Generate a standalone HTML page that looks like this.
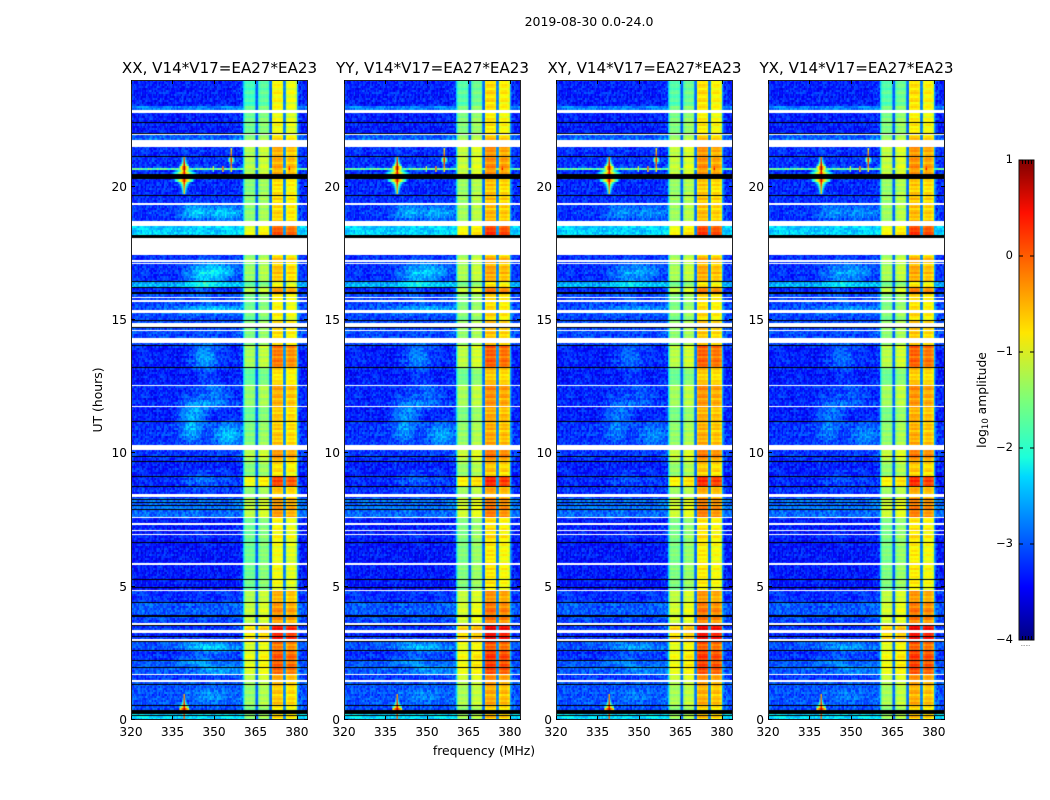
<!DOCTYPE html>
<html>
<head>
<meta charset="utf-8">
<title>Spectrogram panels 2019-08-30</title>
<style>
  html, body { margin: 0; padding: 0; background: #fff; }
  #figure { position: relative; width: 1050px; height: 800px; overflow: hidden; background: #fff; }
  #figure canvas { position: absolute; display: block; }
  #overlay { position: absolute; left: 0; top: 0; }
  text { font-family: "DejaVu Sans", "Liberation Sans", sans-serif; fill: #000; }
</style>
</head>
<body>
<div id="figure">
  <svg id="overlay" width="1050" height="800" viewBox="0 0 1050 800">
    <defs>
      <linearGradient id="jetGradient" x1="0" y1="1" x2="0" y2="0">
        <stop offset="0" stop-color="#000080"/>
        <stop offset="0.11" stop-color="#0000ff"/>
        <stop offset="0.34" stop-color="#00d8ff"/>
        <stop offset="0.38" stop-color="#1cffdb"/>
        <stop offset="0.5" stop-color="#7cff79"/>
        <stop offset="0.64" stop-color="#ffe600"/>
        <stop offset="0.89" stop-color="#ff0f00"/>
        <stop offset="1" stop-color="#800000"/>
      </linearGradient>
    </defs>
    <text x="589" y="26" text-anchor="middle" font-size="12.5">2019-08-30 0.0-24.0</text>
    <text x="484" y="755" text-anchor="middle" font-size="12.4">frequency (MHz)</text>
    <text transform="translate(102,400) rotate(-90)" text-anchor="middle" font-size="12.4">UT (hours)</text>
    <text transform="translate(986,400) rotate(-90)" text-anchor="middle" font-size="12.3">log<tspan font-size="8.5" dy="2">10</tspan><tspan dy="-2"> amplitude</tspan></text>
  </svg>
</div>
<script>
// ---- chart data ----
const panelTitles = ["XX, V14*V17=EA27*EA23", "YY, V14*V17=EA27*EA23", "XY, V14*V17=EA27*EA23", "YX, V14*V17=EA27*EA23"];
const panelIds = ["xx", "yy", "xy", "yx"];
const xTickLabels = [320, 335, 350, 365, 380];
const yTickLabels = [0, 5, 10, 15, 20];
const colorbarTicks = [1, 0, -1, -2, -3, -4];

// log10 amplitude per 0.5 MHz channel, from 320 MHz upward
const channelLevels = [
  -3.25,-3.25,-3.25,-3.25,-3.25,-3.25,-3.25,-3.25,-3.25,-3.25,-3.25,-3.25,-3.25,-3.25,-3.25,-3.25,
  -3.25,-3.25,-3.25,-3.25,-3.25,-3.25,-3.25,-3.25,-3.25,-3.25,-3.25,-3.25,-3.25,-3.25,-3.25,-3.25,
  -3.25,-3.25,-3.25,-3.25,-3.25,-3.25,-3.25,-3.25,-3.25,-3.25,-3.25,-3.25,-3.25,-3.25,-3.25,-3.25,
  -3.25,-3.25,-3.25,-3.25,-3.25,-3.25,-3.25,-3.25,-3.25,-3.25,-3.25,-3.25,-3.25,-3.25,-3.25,-3.25,
  -3.25,-3.25,-3.25,-3.25,-3.25,-3.25,-3.25,-3.25,-3.25,-3.25,-3.25,-3.25,-3.2,-3.2,-3.15,-3.15,
  -3.15,-2.4,-1.65,-1.58,-1.58,-1.58,-1.58,-1.58,-1.6,-1.7,-2.95,-2.9,-1.65,-1.5,-1.45,-1.45,
  -1.45,-1.45,-1.45,-1.6,-2.9,-2.85,-1.15,-1.0,-1.0,-1.0,-1.0,-1.0,-1.0,-1.15,-2.8,-2.75,
  -1.3,-1.15,-1.1,-1.1,-1.1,-1.1,-1.15,-1.3,-2.6,-3.15,-3.2,-3.2,-3.25,-3.25,-3.25,-3.25
];
const lowChannelLimit = 360.7;

// time segments (hours): start of each segment from the top, with quiet-band and bright-band offsets
const segmentStart = [24,23.04,22.78,21.95,21.65,20.31,19.33,18.51,18.09,17.42,16.44,16.22,15.99,14.98,14.04,13.22,12.58,11.79,11.19,10.14,9.73,9.13,8.79,8.34,7.56,6.66,4.86,4.41,3.81,3.54,2.98,2.61,2.23,1.74,1.45,0.54,0.24];
const quietOffset = [0,0.5,0,0.35,0.1,0.05,0.1,0.9,0,0.1,0.75,0,0.2,0.2,0,0,0.05,0,0.1,0.1,0,0,0.1,0.4,0,-0.05,0.1,0.3,0.2,0.1,0.25,0.1,0.3,0.1,0.25,0.25,0.95];
const bandOffset = [0.1,0.1,0.05,0.2,0.4,0.2,0.25,0.75,0,0.3,0.1,0.5,0.1,0.2,0.6,0.2,0.4,0.3,0.3,0.5,0.2,0.8,0.3,0.5,0.1,0.05,0.4,0.5,0.5,1.0,0.6,0.75,0.7,0.4,0.3,0.2,0.2];
const lowerBandDrop = [0.3,0.1,0.05,0.05,0,0.05,0.05,0,0,0.05,0.1,0.05,0.1,0.1,0.2,0.25,0.15,0.25,0.15,0.05,0.05,0,0.1,0,0.1,0.05,0,0,0,0,0,0,0,0,0.05,0.05,0.05];
const panelBandGain = [0, 0.12, 0.1, 0.1];
const panelBlobGain = [1, 0.8, 0.6, 0.6];
const rowStreak = [0.02,-0.1,0.14,0.05,-0.18,0.1,0.22,-0.05,-0.14,0.08,0.17,-0.22,0,0.12,-0.08,0.19,-0.12,0.04,-0.2,0.15,0.07,-0.03,0.24,-0.16,0.09,-0.06,0.13,-0.24,0.03,0.18,-0.09,0.06,-0.13,0.2,-0.02,0.11,-0.17];
const speckle = [0.12,-0.28,0.05,0.31,-0.14,-0.33,0.22,0.02,-0.09,0.27,-0.21,0.16,-0.38,0.08,0.34,-0.05,-0.25,0.19,0.01,-0.17,0.29,-0.31,0.11,-0.02,0.24,-0.12,0.36,-0.27,0.06,-0.19,0.15,-0.35,0.26,-0.07,0.09,-0.23,0.32,0.03,-0.15,0.2,-0.3,0.13,-0.04,0.28,-0.11,-0.36,0.18,0.07,-0.24,0.23,-0.08,0.33,-0.18,0.04,-0.29,0.17,0.1,-0.13,0.25,-0.01,-0.2];

// broad sky-emission patches in the quiet band
const blobFreq = [343,354,346,352,347,350,342,355,349,342,350,346,346,350,344,352,349];
const blobHour = [19.05,19.0,16.6,16.85,13.6,12.35,10.95,10.7,11.85,11.6,15.4,9.0,2.8,2.65,2.2,1.85,0.9];
const blobFreqWidth = [5,6,6,7,5,5,4,5,8,5,14,9,9,9,8,9,7];
const blobHourWidth = [0.3,0.3,0.5,0.35,0.55,0.35,0.5,0.45,0.25,0.4,0.15,0.3,0.15,0.2,0.15,0.2,0.3];
const blobAmp = [0.8,0.85,0.65,0.7,0.7,0.45,0.7,0.8,0.45,0.5,0.7,0.4,0.4,0.5,0.4,0.4,0.35];

// narrowband interference features
const rfiFreq = [339.25,339.25,339.25,356.25,353.25,377.25,349.75,364.75,339.25];
const rfiHour = [20.42,20.7,20.25,21.0,20.68,20.68,20.68,20.68,0.42];
const rfiPeak = [0.55,0.95,0.7,0.4,0.3,0.5,-0.5,-0.5,0.7];
const rfiHourWidth = [0.7,0.45,0.35,0.42,0.12,0.14,0.1,0.1,0.55];
const rfiFreqWidth = [4.5,2,3.5,1.1,1.2,1.2,1,1,2];
const rfiLineHour = 20.67;
const rfiLineLevel = -1.7;

// flagged (white) time ranges: upper and lower hour
const flagTop = [22.87,21.99,21.75,21.62,19.37,18.73,18.09,17.25,17.15,15.88,15.75,15.39,15.32,14.90,14.62,14.32,12.58,11.79,10.33,8.46,7.63,7.40,7.11,6.99,5.87,4.86,3.62,3.36,3.02,1.74,1.50];
const flagBottom = [22.78,21.95,21.65,21.50,19.33,18.51,17.42,17.19,17.10,15.84,15.69,15.36,15.26,14.75,14.57,14.15,12.54,11.75,10.14,8.35,7.56,7.33,7.07,6.95,5.83,4.82,3.58,3.28,2.98,1.71,1.42];
// dropped (black) time ranges
const dropTop = [22.42,22.03,21.15,20.46,19.69,18.17,16.46,16.24,16.06,15.00,14.74,14.06,13.24,11.21,9.91,9.72,9.15,8.79,8.30,8.18,8.06,7.91,6.68,5.30,5.00,4.43,3.92,3.56,3.15,2.96,2.64,2.25,2.00,1.35,0.56,0.36,0.19];
const dropBottom = [22.38,21.99,21.11,20.29,19.65,18.09,16.42,16.20,15.98,14.96,14.70,14.02,13.20,11.17,9.87,9.68,9.11,8.75,8.26,8.14,8.02,7.87,6.64,5.26,4.96,4.39,3.86,3.52,3.11,2.92,2.60,2.21,1.96,1.31,0.52,0.24,0.15];

// ---- layout ----
const panelLeft = [131, 344, 556, 768];
const panelWidth = 177;
const panelTop = 80;
const panelHeight = 640;
const freqMin = 320, freqMax = 384, hourMin = 0, hourMax = 24;
const cbarLeft = 1019, cbarWidth = 15, cbarTop = 160, cbarHeight = 480;

function xPix(f) { return (f - freqMin) / (freqMax - freqMin) * panelWidth; }
function yPix(h) { return (hourMax - h) / (hourMax - hourMin) * panelHeight; }
function cbarY(v) { return cbarTop + (1 - v) / 5 * cbarHeight; }

function jet(v) {
  const t = Math.max(0, Math.min(1, (v + 4) / 5));
  const ramp = (x) => Math.max(0, Math.min(1, x));
  const r = ramp(Math.min(4 * t - 1.5, -4 * t + 4.5));
  const g = ramp(Math.min(4 * t - 0.5, -4 * t + 3.5));
  const b = ramp(Math.min(4 * t + 0.5, -4 * t + 2.5));
  return "rgb(" + Math.round(r * 255) + "," + Math.round(g * 255) + "," + Math.round(b * 255) + ")";
}

function segmentIndex(h) {
  let idx = 0;
  for (let i = 0; i < segmentStart.length; i++) { if (h <= segmentStart[i]) idx = i; }
  return idx;
}

function cellValue(panel, col, row, f, h) {
  const seg = segmentIndex(h);
  const base = channelLevels[col];
  const streak = rowStreak[row % rowStreak.length];
  const noise = speckle[(col * col * 3 + row * row * 5 + col * row) % speckle.length];
  let v;
  if (f < lowChannelLimit || f > 380.5) {
    v = base + quietOffset[seg] + noise * 0.85 + streak * 0.25;
    for (let i = 0; i < blobFreq.length; i++) {
      const dx = (f - blobFreq[i]) / blobFreqWidth[i];
      const dy = (h - blobHour[i]) / blobHourWidth[i];
      const d = dx * dx + dy * dy;
      if (d < 4 && f < lowChannelLimit) v += blobAmp[i] * panelBlobGain[panel] * Math.exp(-d);
    }
  } else if (base < -2) {
    v = base + 0.2 * bandOffset[seg] + noise * 0.2;
  } else if (f > 371) {
    v = base + 1.3 * (bandOffset[seg] + panelBandGain[panel]) + 0.7 * streak + noise * 0.1;
  } else {
    v = base + 0.8 * (bandOffset[seg] + panelBandGain[panel]) + 0.5 * streak - lowerBandDrop[seg] + noise * 0.1;
  }
  if (Math.abs(h - rfiLineHour) < 0.06) v = Math.max(v, rfiLineLevel + noise);
  for (let i = 0; i < rfiFreq.length; i++) {
    const dt = Math.abs(h - rfiHour[i]) / rfiHourWidth[i];
    const df = Math.abs(f - rfiFreq[i]) / rfiFreqWidth[i];
    if (dt < 1 && df < 1) v = Math.max(v, rfiPeak[i] - 2.6 * (2 * Math.sqrt(dt * df) + 0.5 * (dt + df)));
  }
  return v;
}

function drawPanel(ctx, panel) {
  const colCount = channelLevels.length;
  const rowCount = 320;
  for (let row = 0; row < rowCount; row++) {
    const h = hourMax - (row + 0.5) / rowCount * (hourMax - hourMin);
    const y0 = yPix(hourMax - row / rowCount * (hourMax - hourMin));
    const y1 = yPix(hourMax - (row + 1) / rowCount * (hourMax - hourMin));
    for (let col = 0; col < colCount; col++) {
      const f = freqMin + (col + 0.5) * (freqMax - freqMin) / colCount;
      ctx.fillStyle = jet(cellValue(panel, col, row, f, h));
      const x0 = xPix(freqMin + col * (freqMax - freqMin) / colCount);
      const x1 = xPix(freqMin + (col + 1) * (freqMax - freqMin) / colCount);
      ctx.fillRect(x0, y0, x1 - x0 + 0.5, y1 - y0 + 0.5);
    }
  }
  ctx.fillStyle = "#000";
  for (let i = 0; i < dropTop.length; i++) {
    const top = Math.round(yPix(dropTop[i]));
    const bottom = Math.max(top + 1, Math.round(yPix(dropBottom[i])));
    ctx.fillRect(0, top, panelWidth, bottom - top);
  }
  ctx.fillStyle = "#fff";
  for (let i = 0; i < flagTop.length; i++) {
    const top = Math.round(yPix(flagTop[i]));
    const bottom = Math.max(top + 1, Math.round(yPix(flagBottom[i])));
    ctx.fillRect(0, top, panelWidth, bottom - top);
  }
}

const SVG_NS = "http://www.w3.org/2000/svg";
const figure = document.getElementById("figure");
const overlay = document.getElementById("overlay");

function svgEl(tag, attrs, text) {
  const el = document.createElementNS(SVG_NS, tag);
  for (const k in attrs) el.setAttribute(k, attrs[k]);
  if (text !== undefined) el.textContent = text;
  overlay.appendChild(el);
  return el;
}

panelLeft.forEach(function (left, p) {
  const canvas = document.createElement("canvas");
  
  
  canvas.width = panelWidth;
  canvas.height = panelHeight;
  canvas.style.left = left + "px";
  canvas.style.top = panelTop + "px";
  figure.insertBefore(canvas, overlay);
  drawPanel(canvas.getContext("2d"), p);

  const frame = svgEl("rect", { x: left + 0.5, y: panelTop + 0.5, width: panelWidth - 1, height: panelHeight - 1, fill: "none", stroke: "#222", "stroke-width": 1 });
  
  

  const title = svgEl("text", { x: left + panelWidth / 2, y: panelTop - 7, "text-anchor": "middle", "font-size": 15.1 }, panelTitles[p]);
  
  

  xTickLabels.forEach(function (val) {
    const x = Math.round(left + xPix(val)) + 0.5;
    const tickTop = svgEl("line", { x1: x, x2: x, y1: panelTop, y2: panelTop + 4, stroke: "#000", "stroke-width": 1 });
    
    
    const tickBottom = svgEl("line", { x1: x, x2: x, y1: panelTop + panelHeight - 4, y2: panelTop + panelHeight, stroke: "#000", "stroke-width": 1 });
    
    
    const label = svgEl("text", { x: left + xPix(val), y: panelTop + panelHeight + 16, "text-anchor": "middle", "font-size": 12.2 }, String(val));
    
    
  });

  yTickLabels.forEach(function (val) {
    const y = Math.round(panelTop + yPix(val)) - 0.5;
    const tickLeft = svgEl("line", { x1: left, x2: left + 4, y1: y, y2: y, stroke: "#000", "stroke-width": 1 });
    
    
    const tickRight = svgEl("line", { x1: left + panelWidth - 4, x2: left + panelWidth, y1: y, y2: y, stroke: "#000", "stroke-width": 1 });
    
    
    const label = svgEl("text", { x: left - 4, y: y + 4.5, "text-anchor": "end", "font-size": 12.2 }, String(val));
    
    
  });
});

const bar = svgEl("rect", { x: cbarLeft, y: cbarTop, width: cbarWidth, height: cbarHeight, fill: "url(#jetGradient)", stroke: "#111", "stroke-width": 1 });



colorbarTicks.forEach(function (val) {
  const y = cbarY(val);
  const tl = svgEl("line", { x1: cbarLeft, x2: cbarLeft + 4, y1: y, y2: y, stroke: "#000", "stroke-width": 1 });
  
  
  const tr = svgEl("line", { x1: cbarLeft + cbarWidth - 4, x2: cbarLeft + cbarWidth, y1: y, y2: y, stroke: "#000", "stroke-width": 1 });
  
  
  const label = svgEl("text", { x: cbarLeft - 6, y: y + 3, "text-anchor": "end", "font-size": 11.5 }, String(val).replace("-", "\u2212"));
  
  
});

[3, 6, 9, 12].forEach(function (dx) {
  const a = svgEl("line", { x1: cbarLeft + dx + 0.5, x2: cbarLeft + dx + 0.5, y1: cbarTop, y2: cbarTop + 4, stroke: "#000", "stroke-width": 1 });
  
  
  const b = svgEl("line", { x1: cbarLeft + dx + 0.5, x2: cbarLeft + dx + 0.5, y1: cbarTop + cbarHeight - 4, y2: cbarTop + cbarHeight, stroke: "#000", "stroke-width": 1 });
  
  
});

const dots = svgEl("text", { x: cbarLeft + cbarWidth / 2 - 1, y: cbarTop + cbarHeight + 6, "text-anchor": "middle", "font-size": 5, fill: "#777" }, "......");


</script>
</body>
</html>
